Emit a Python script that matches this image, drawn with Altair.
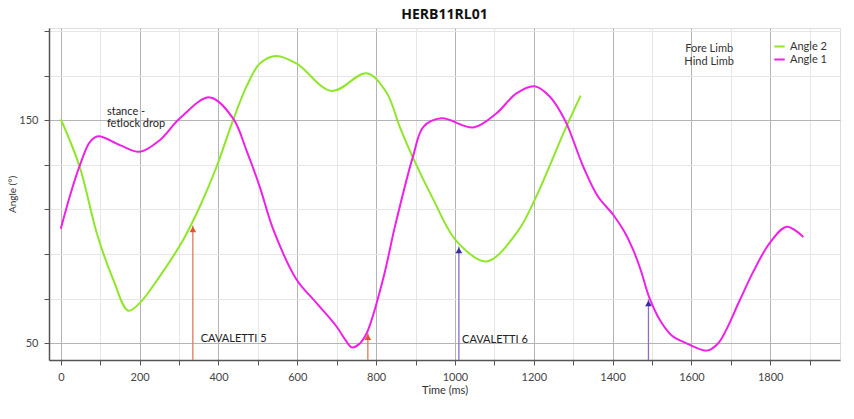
import altair as alt
import pandas as pd

# ---- data ----
angle2_t = [0, 48, 91, 133, 171, 200, 251, 310, 353, 395, 437, 471, 505, 547, 598, 687, 776, 826,
            860, 894, 945, 1004, 1080, 1157, 1203, 1279, 1319]
angle2_v = [150.4, 129, 99.5, 78.5, 64.6, 68, 80, 96.2, 111.4, 129, 150, 165, 175.4, 178.8, 175.4,
            163.1, 171, 162.5, 147, 133, 114.5, 95.8, 86.7, 99.6, 114.5, 145.6, 161]

angle1_t = [0, 23, 48, 74, 95, 150, 200, 251, 302, 378, 437, 471, 505, 539, 598, 649, 700, 722,
            738, 756, 776, 818, 848, 894, 920, 966, 1047, 1105, 1156, 1202, 1241, 1279, 1326,
            1362, 1402, 1430, 1452, 1472, 1492, 1520, 1550, 1584, 1639, 1668, 1723, 1757, 1799,
            1842, 1884]
angle1_v = [101.3, 116, 129.6, 140.3, 142.8, 138.8, 135.8, 141, 150.8, 160.2, 150.8, 136.5, 120,
            101, 78.6, 68, 57.4, 51.5, 48.2, 49.5, 54.5, 79, 102.5, 134, 147, 150.8, 146.7, 153,
            162, 165.2, 160.5, 150, 129, 116, 107.5, 100, 92, 82.5, 71, 60.4, 53.5, 50.3, 46.7,
            50, 69.4, 82.1, 95, 102.2, 97.6]

series_names = ["Angle 2", "Angle 1"]
series_colors = ["#8fe62a", "#ee22e6"]

arrow_t = [335, 779, 1010, 1491]
arrow_v = [102.8, 54.6, 93.4, 69.7]
arrow_line_color = ["#e07a5a", "#e07a5a", "#8a70c4", "#8a70c4"]
arrow_head_color = ["#e0532c", "#e0532c", "#3a2aa0", "#3a2aa0"]

notes_text = ["stance -", "fetlock drop", "CAVALETTI 5", "CAVALETTI 6"]
notes_t = [117, 117, 355, 1018]
notes_v = [153.6, 148.2, 52, 51.5]

limb_text = ["Fore Limb", "Hind Limb"]
limb_t = [1645, 1645]
limb_v = [181.8, 176]

X_MIN, X_MAX = -30, 1977
Y_MIN, Y_MAX = 42.5, 191.3
x_ticks = list(range(0, 1951, 50))
y_ticks = list(range(50, 191, 10))

FONT = "Lato"

# ---- tables ----
lines = pd.concat([
    pd.DataFrame({"t": angle2_t, "v": angle2_v, "s": "Angle 2"}),
    pd.DataFrame({"t": angle1_t, "v": angle1_v, "s": "Angle 1"}),
])
arrows = pd.DataFrame({"t": arrow_t, "v": arrow_v, "base": Y_MIN,
                       "lc": arrow_line_color, "hc": arrow_head_color})
notes = pd.DataFrame({"txt": notes_text, "t": notes_t, "v": notes_v})
limbs = pd.DataFrame({"txt": limb_text, "t": limb_t, "v": limb_v})

xscale = alt.Scale(domain=[X_MIN, X_MAX], nice=False, zero=False)
yscale = alt.Scale(domain=[Y_MIN, Y_MAX], nice=False, zero=False)

x_axis = alt.Axis(
    title="Time (ms)", values=x_ticks, format="d",
    labelExpr="datum.value % 200 === 0 ? datum.label : ''",
    gridColor={"condition": {"test": "datum.value % 200 === 0", "value": "#b4b4b4"}, "value": "#e6e6e6"},
    grid=True, tickSize=5, tickColor="#555", domainColor="#555", domainWidth=1.5,
    labelFont=FONT, labelFontSize=11, labelColor="#444", labelPadding=6,
    titleFont=FONT, titleFontSize=11, titleFontWeight="normal", titleColor="#333", titlePadding=2,
)
y_axis = alt.Axis(
    title="Angle (°)", values=y_ticks, format="d",
    labelExpr="datum.value % 50 === 0 ? datum.label : ''",
    gridColor={"condition": {"test": "datum.value % 50 === 0", "value": "#b4b4b4"}, "value": "#e6e6e6"},
    grid=True, tickSize=5, tickColor="#555", domainColor="#555", domainWidth=1.5,
    labelFont=FONT, labelFontSize=11, labelColor="#444", labelPadding=6,
    titleFont=FONT, titleFontSize=10, titleFontWeight="normal", titleColor="#333", titlePadding=1,
)

base_lines = alt.Chart(lines).mark_line(interpolate="catmull-rom", strokeWidth=2).encode(
    x=alt.X("t:Q", scale=xscale, axis=x_axis),
    y=alt.Y("v:Q", scale=yscale, axis=y_axis),
    color=alt.Color("s:N", scale=alt.Scale(domain=series_names, range=series_colors),
                    legend=alt.Legend(title=None, orient="none", legendX=724, legendY=12,
                                      symbolType="stroke", symbolStrokeWidth=2, symbolSize=110,
                                      labelFont=FONT, labelFontSize=11, labelColor="#333",
                                      rowPadding=1)),
    detail="s:N",
)

arrow_rules = alt.Chart(arrows).mark_rule(strokeWidth=1.3).encode(
    x=alt.X("t:Q", scale=xscale), y=alt.Y("v:Q", scale=yscale), y2="base:Q",
    color=alt.Color("lc:N", scale=None),
)
arrow_heads = alt.Chart(arrows).mark_point(shape="triangle-up", filled=True, size=45, opacity=1,
                                           yOffset=4).encode(
    x=alt.X("t:Q", scale=xscale), y=alt.Y("v:Q", scale=yscale),
    color=alt.Color("hc:N", scale=None),
)

note_text = alt.Chart(notes).mark_text(align="left", baseline="middle", font=FONT,
                                       fontSize=11, color="#222").encode(
    x=alt.X("t:Q", scale=xscale), y=alt.Y("v:Q", scale=yscale), text="txt:N",
)
limb_marks = alt.Chart(limbs).mark_text(align="center", baseline="middle", font=FONT,
                                        fontSize=11, color="#333").encode(
    x=alt.X("t:Q", scale=xscale), y=alt.Y("v:Q", scale=yscale), text="txt:N",
)

chart = alt.layer(base_lines, arrow_rules, arrow_heads, note_text, limb_marks).properties(
    width=791, height=332,
    title=alt.TitleParams("HERB11RL01", font="Open Sans", fontSize=14, fontWeight="bold",
                          color="#111", anchor="middle", offset=6),
    autosize=alt.AutoSizeParams(type="none"),
    padding={"left": 49, "top": 28, "right": 14, "bottom": 59},
).configure_view(stroke="#777", strokeWidth=1.5).configure(background="white")

chart.save("out.html", embed_options={"renderer": "svg", "actions": False})
